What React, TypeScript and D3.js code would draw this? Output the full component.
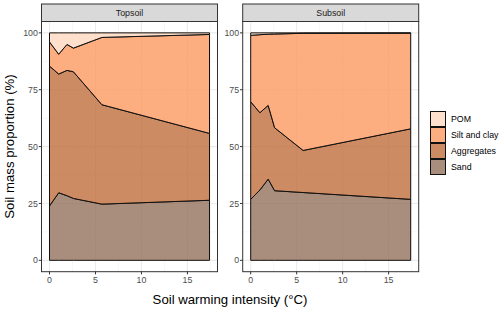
import React from 'react';
import * as d3 from 'd3';

// warming intensity (°C) at each sampling point
const warming = [0, 1, 1.9, 2.6, 5.7, 17.4];

// fraction proportions (%) per panel
const topsoilSand = [23.9, 29.7, 28.4, 27.2, 24.7, 26.4];
const topsoilAggregates = [61.5, 52.2, 55.1, 55.7, 43.7, 29.4];
const topsoilSilt = [10.6, 8.7, 11.4, 10.4, 29.6, 43.5];
const topsoilPOM = [4.0, 9.4, 5.1, 6.7, 2.0, 0.7];

const subsoilSand = [26.8, 30.9, 35.7, 30.6, 29.8, 26.8];
const subsoilAggregates = [42.9, 34.0, 32.4, 27.7, 18.5, 31.0];
const subsoilSilt = [29.2, 34.3, 31.3, 41.2, 51.5, 42.1];
const subsoilPOM = [1.1, 0.8, 0.6, 0.5, 0.2, 0.1];

const fractions = ['Sand', 'Aggregates', 'Silt and clay', 'POM'];
const fillColors = ['#94725C', '#BF6E3C', '#FC9A60', '#FED8BF'];
const xTicks = [0, 5, 10, 15];
const yTicks = [0, 25, 50, 75, 100];

const panels = [
  { name: 'Topsoil', left: 41.5, values: [topsoilSand, topsoilAggregates, topsoilSilt, topsoilPOM] },
  { name: 'Subsoil', left: 242.7, values: [subsoilSand, subsoilAggregates, subsoilSilt, subsoilPOM] },
];

const panelW = 176;
const top = 21.5;
const bottom = 271.7;
const font = 'Liberation Sans, Arial, sans-serif';

function Panel({ name, left, values }) {
  const x = d3.scaleLinear().domain([0 - 17.4 * 0.05, 17.4 * 1.05]).range([left, left + panelW]);
  const y = d3.scaleLinear().domain([-5, 105]).range([bottom, top]);

  const rows = warming.map((w, i) => {
    const r: any = { w };
    fractions.forEach((f, k) => { r[f] = values[k][i]; });
    return r;
  });
  const series = d3.stack().keys(fractions)(rows);
  const area = d3.area<any>()
    .x(d => x(d.data.w))
    .y0(d => y(d[0]))
    .y1(d => y(d[1]));

  const minorX = [2.5, 7.5, 12.5, 17.5];
  const minorY = [12.5, 37.5, 62.5, 87.5];

  return (
    <g>
      <rect x={left} y={top} width={panelW} height={bottom - top} fill="white" />
      {minorX.map(v => <line key={'mx' + v} x1={x(v)} x2={x(v)} y1={top} y2={bottom} stroke="#F2F2F2" strokeWidth={0.6} />)}
      {minorY.map(v => <line key={'my' + v} x1={left} x2={left + panelW} y1={y(v)} y2={y(v)} stroke="#F2F2F2" strokeWidth={0.6} />)}
      {xTicks.map(v => <line key={'gx' + v} x1={x(v)} x2={x(v)} y1={top} y2={bottom} stroke="#EBEBEB" strokeWidth={1.1} />)}
      {yTicks.map(v => <line key={'gy' + v} x1={left} x2={left + panelW} y1={y(v)} y2={y(v)} stroke="#EBEBEB" strokeWidth={1.1} />)}
      {series.map((s, k) => (
        <path key={s.key} d={area(s) + 'Z'} fill={fillColors[k]} fillOpacity={0.8} stroke="#111" strokeWidth={1} strokeLinejoin="round" />
      ))}
      <rect x={left} y={top} width={panelW} height={bottom - top} fill="none" stroke="#333" strokeWidth={1} />
      <rect x={left} y={4} width={panelW} height={top - 4} fill="#D9D9D9" stroke="#333" strokeWidth={1} />
      <text x={left + panelW / 2} y={15.6} textAnchor="middle" fontSize={8.8} fill="#1A1A1A" fontFamily={font}>{name}</text>
      {yTicks.map(v => (
        <g key={'ty' + v}>
          <line x1={left - 2.7} x2={left} y1={y(v)} y2={y(v)} stroke="#333" strokeWidth={1} />
          <text x={left - 3.6} y={y(v) + 3.1} textAnchor="end" fontSize={8.8} fill="#4D4D4D" fontFamily={font}>{v}</text>
        </g>
      ))}
      {xTicks.map(v => (
        <g key={'tx' + v}>
          <line x1={x(v)} x2={x(v)} y1={bottom} y2={bottom + 2.7} stroke="#333" strokeWidth={1} />
          <text x={x(v)} y={283} textAnchor="middle" fontSize={8.8} fill="#4D4D4D" fontFamily={font}>{v}</text>
        </g>
      ))}
    </g>
  );
}

export default function App() {
  const legendOrder = [3, 2, 1, 0];
  return (
    <svg width={500} height={312} style={{ position: 'absolute', left: 0, top: 0, background: 'white' }}>
      <rect width={500} height={312} fill="white" />
      {panels.map(p => <Panel key={p.name} {...p} />)}
      <text transform="translate(14,146.5) rotate(-90)" textAnchor="middle" fontSize={13.2} fill="black" fontFamily={font}>Soil mass proportion (%)</text>
      <text x={230} y={304} textAnchor="middle" fontSize={13.2} fill="black" fontFamily={font}>Soil warming intensity (°C)</text>
      {legendOrder.map((k, i) => (
        <g key={fractions[k]}>
          <rect x={430} y={111 + i * 16} width={16} height={16} fill="white" />
          <rect x={430.5} y={111.5 + i * 16} width={15} height={15} fill={fillColors[k]} fillOpacity={0.8} stroke="#111" strokeWidth={1} />
          <text x={451} y={122.3 + i * 16} fontSize={8.8} fill="black" fontFamily={font}>{fractions[k]}</text>
        </g>
      ))}
    </svg>
  );
}
